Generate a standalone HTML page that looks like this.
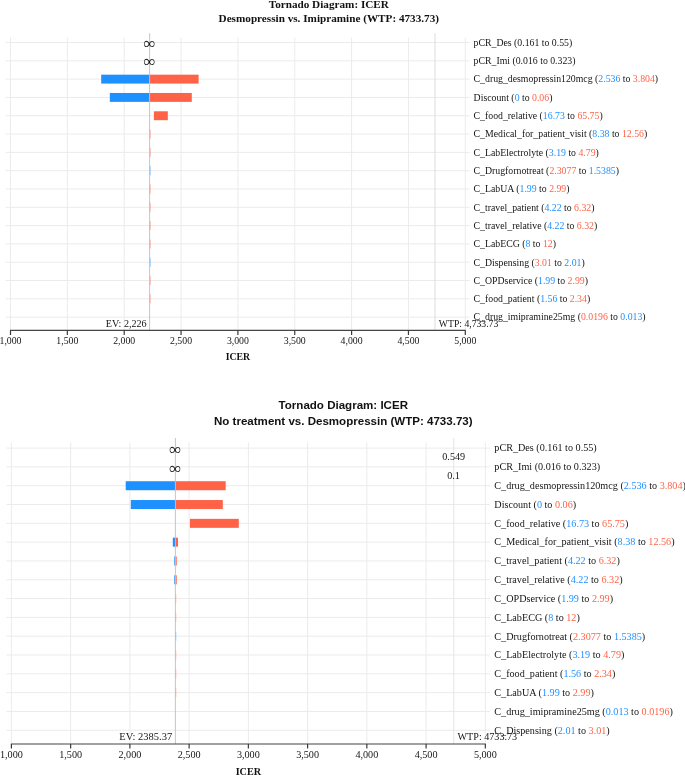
<!DOCTYPE html>
<html><head><meta charset="utf-8"><title>Tornado Diagram: ICER</title>
<style>
html,body{margin:0;padding:0;background:#fff;}
body{width:685px;height:775px;overflow:hidden;}
svg{display:block;font-family:"Liberation Serif",serif;}
</style></head><body>
<svg width="685" height="775" viewBox="0 0 685 775">
<rect width="685" height="775" fill="#fff"/>
<g id="chart1">
<line x1="5.8" x2="469.8" y1="42.50" y2="42.50" stroke="#ebebeb" stroke-width="1"/>
<line x1="5.8" x2="469.8" y1="60.81" y2="60.81" stroke="#ebebeb" stroke-width="1"/>
<line x1="5.8" x2="469.8" y1="79.12" y2="79.12" stroke="#ebebeb" stroke-width="1"/>
<line x1="5.8" x2="469.8" y1="97.43" y2="97.43" stroke="#ebebeb" stroke-width="1"/>
<line x1="5.8" x2="469.8" y1="115.74" y2="115.74" stroke="#ebebeb" stroke-width="1"/>
<line x1="5.8" x2="469.8" y1="134.05" y2="134.05" stroke="#ebebeb" stroke-width="1"/>
<line x1="5.8" x2="469.8" y1="152.36" y2="152.36" stroke="#ebebeb" stroke-width="1"/>
<line x1="5.8" x2="469.8" y1="170.67" y2="170.67" stroke="#ebebeb" stroke-width="1"/>
<line x1="5.8" x2="469.8" y1="188.98" y2="188.98" stroke="#ebebeb" stroke-width="1"/>
<line x1="5.8" x2="469.8" y1="207.29" y2="207.29" stroke="#ebebeb" stroke-width="1"/>
<line x1="5.8" x2="469.8" y1="225.60" y2="225.60" stroke="#ebebeb" stroke-width="1"/>
<line x1="5.8" x2="469.8" y1="243.91" y2="243.91" stroke="#ebebeb" stroke-width="1"/>
<line x1="5.8" x2="469.8" y1="262.22" y2="262.22" stroke="#ebebeb" stroke-width="1"/>
<line x1="5.8" x2="469.8" y1="280.53" y2="280.53" stroke="#ebebeb" stroke-width="1"/>
<line x1="5.8" x2="469.8" y1="298.84" y2="298.84" stroke="#ebebeb" stroke-width="1"/>
<line x1="5.8" x2="469.8" y1="317.15" y2="317.15" stroke="#ebebeb" stroke-width="1"/>
<line x1="10.50" x2="10.50" y1="37.5" y2="330.4" stroke="#ebebeb" stroke-width="1"/>
<line x1="67.35" x2="67.35" y1="37.5" y2="330.4" stroke="#ebebeb" stroke-width="1"/>
<line x1="124.20" x2="124.20" y1="37.5" y2="330.4" stroke="#ebebeb" stroke-width="1"/>
<line x1="181.05" x2="181.05" y1="37.5" y2="330.4" stroke="#ebebeb" stroke-width="1"/>
<line x1="237.90" x2="237.90" y1="37.5" y2="330.4" stroke="#ebebeb" stroke-width="1"/>
<line x1="294.75" x2="294.75" y1="37.5" y2="330.4" stroke="#ebebeb" stroke-width="1"/>
<line x1="351.60" x2="351.60" y1="37.5" y2="330.4" stroke="#ebebeb" stroke-width="1"/>
<line x1="408.45" x2="408.45" y1="37.5" y2="330.4" stroke="#ebebeb" stroke-width="1"/>
<line x1="465.30" x2="465.30" y1="37.5" y2="330.4" stroke="#ebebeb" stroke-width="1"/>
<line x1="435.03" x2="435.03" y1="33.2" y2="330.4" stroke="#dcdcdc" stroke-width="1"/>
<rect x="101.20" y="74.67" width="48.40" height="8.9" fill="#1E90FF" fill-opacity="1"/>
<rect x="149.60" y="74.67" width="49.00" height="8.9" fill="#FF6347" fill-opacity="1"/>
<rect x="109.80" y="92.98" width="39.80" height="8.9" fill="#1E90FF" fill-opacity="1"/>
<rect x="149.60" y="92.98" width="42.20" height="8.9" fill="#FF6347" fill-opacity="1"/>
<rect x="153.90" y="111.29" width="13.90" height="8.9" fill="#FF6347" fill-opacity="1"/>
<rect x="149.60" y="129.60" width="0.90" height="8.9" fill="#FF6347" fill-opacity="0.65"/>
<rect x="149.60" y="147.91" width="0.90" height="8.9" fill="#FF6347" fill-opacity="0.65"/>
<rect x="149.60" y="166.22" width="0.90" height="8.9" fill="#1E90FF" fill-opacity="0.65"/>
<rect x="149.60" y="184.53" width="0.90" height="8.9" fill="#FF6347" fill-opacity="0.65"/>
<rect x="149.60" y="202.84" width="0.90" height="8.9" fill="#FF6347" fill-opacity="0.65"/>
<rect x="149.60" y="221.15" width="0.90" height="8.9" fill="#FF6347" fill-opacity="0.65"/>
<rect x="149.60" y="239.46" width="0.90" height="8.9" fill="#FF6347" fill-opacity="0.65"/>
<rect x="149.60" y="257.77" width="0.90" height="8.9" fill="#1E90FF" fill-opacity="0.65"/>
<rect x="149.60" y="276.08" width="0.90" height="8.9" fill="#FF6347" fill-opacity="0.65"/>
<rect x="149.60" y="294.39" width="0.90" height="8.9" fill="#FF6347" fill-opacity="0.65"/>
<line x1="149.60" x2="149.60" y1="33.2" y2="330.4" stroke="#c0c0c0" stroke-width="0.9"/>
<text x="149.60" y="48.80" text-anchor="middle" font-size="17" fill="#111">∞</text>
<text x="149.60" y="67.11" text-anchor="middle" font-size="17" fill="#111">∞</text>
<line x1="10.00" x2="465.80" y1="330.4" y2="330.4" stroke="#444" stroke-width="1.1"/>
<line x1="10.50" x2="10.50" y1="330.4" y2="335.0" stroke="#3a3a3a" stroke-width="1.2"/>
<text x="10.50" y="343.80" text-anchor="middle" font-size="9.79" fill="#151515">1,000</text>
<line x1="67.35" x2="67.35" y1="330.4" y2="335.0" stroke="#3a3a3a" stroke-width="1.2"/>
<text x="67.35" y="343.80" text-anchor="middle" font-size="9.79" fill="#151515">1,500</text>
<line x1="124.20" x2="124.20" y1="330.4" y2="335.0" stroke="#3a3a3a" stroke-width="1.2"/>
<text x="124.20" y="343.80" text-anchor="middle" font-size="9.79" fill="#151515">2,000</text>
<line x1="181.05" x2="181.05" y1="330.4" y2="335.0" stroke="#3a3a3a" stroke-width="1.2"/>
<text x="181.05" y="343.80" text-anchor="middle" font-size="9.79" fill="#151515">2,500</text>
<line x1="237.90" x2="237.90" y1="330.4" y2="335.0" stroke="#3a3a3a" stroke-width="1.2"/>
<text x="237.90" y="343.80" text-anchor="middle" font-size="9.79" fill="#151515">3,000</text>
<line x1="294.75" x2="294.75" y1="330.4" y2="335.0" stroke="#3a3a3a" stroke-width="1.2"/>
<text x="294.75" y="343.80" text-anchor="middle" font-size="9.79" fill="#151515">3,500</text>
<line x1="351.60" x2="351.60" y1="330.4" y2="335.0" stroke="#3a3a3a" stroke-width="1.2"/>
<text x="351.60" y="343.80" text-anchor="middle" font-size="9.79" fill="#151515">4,000</text>
<line x1="408.45" x2="408.45" y1="330.4" y2="335.0" stroke="#3a3a3a" stroke-width="1.2"/>
<text x="408.45" y="343.80" text-anchor="middle" font-size="9.79" fill="#151515">4,500</text>
<line x1="465.30" x2="465.30" y1="330.4" y2="335.0" stroke="#3a3a3a" stroke-width="1.2"/>
<text x="465.30" y="343.80" text-anchor="middle" font-size="9.79" fill="#151515">5,000</text>
<text x="237.90" y="360" text-anchor="middle" font-size="9.79" font-weight="bold" fill="#111">ICER</text>
<text x="146.60" y="326.8" text-anchor="end" font-size="10.1" fill="#151515">EV: 2,226</text>
<text x="438.83" y="326.8" text-anchor="start" font-size="9.7" fill="#151515">WTP: 4,733.73</text>
<text x="473.6" y="45.80" font-size="9.79" fill="#151515">pCR_Des (0.161 to 0.55)</text>
<text x="473.6" y="64.11" font-size="9.79" fill="#151515">pCR_Imi (0.016 to 0.323)</text>
<text x="473.6" y="82.42" font-size="9.79" fill="#151515">C_drug_desmopressin120mcg (<tspan fill="#1E90FF">2.536</tspan> to <tspan fill="#FF6347">3.804</tspan>)</text>
<text x="473.6" y="100.73" font-size="9.79" fill="#151515">Discount (<tspan fill="#1E90FF">0</tspan> to <tspan fill="#FF6347">0.06</tspan>)</text>
<text x="473.6" y="119.04" font-size="9.79" fill="#151515">C_food_relative (<tspan fill="#1E90FF">16.73</tspan> to <tspan fill="#FF6347">65.75</tspan>)</text>
<text x="473.6" y="137.35" font-size="9.79" fill="#151515">C_Medical_for_patient_visit (<tspan fill="#1E90FF">8.38</tspan> to <tspan fill="#FF6347">12.56</tspan>)</text>
<text x="473.6" y="155.66" font-size="9.79" fill="#151515">C_LabElectrolyte (<tspan fill="#1E90FF">3.19</tspan> to <tspan fill="#FF6347">4.79</tspan>)</text>
<text x="473.6" y="173.97" font-size="9.79" fill="#151515">C_Drugfornotreat (<tspan fill="#FF6347">2.3077</tspan> to <tspan fill="#1E90FF">1.5385</tspan>)</text>
<text x="473.6" y="192.28" font-size="9.79" fill="#151515">C_LabUA (<tspan fill="#1E90FF">1.99</tspan> to <tspan fill="#FF6347">2.99</tspan>)</text>
<text x="473.6" y="210.59" font-size="9.79" fill="#151515">C_travel_patient (<tspan fill="#1E90FF">4.22</tspan> to <tspan fill="#FF6347">6.32</tspan>)</text>
<text x="473.6" y="228.90" font-size="9.79" fill="#151515">C_travel_relative (<tspan fill="#1E90FF">4.22</tspan> to <tspan fill="#FF6347">6.32</tspan>)</text>
<text x="473.6" y="247.21" font-size="9.79" fill="#151515">C_LabECG (<tspan fill="#1E90FF">8</tspan> to <tspan fill="#FF6347">12</tspan>)</text>
<text x="473.6" y="265.52" font-size="9.79" fill="#151515">C_Dispensing (<tspan fill="#FF6347">3.01</tspan> to <tspan fill="#1E90FF">2.01</tspan>)</text>
<text x="473.6" y="283.83" font-size="9.79" fill="#151515">C_OPDservice (<tspan fill="#1E90FF">1.99</tspan> to <tspan fill="#FF6347">2.99</tspan>)</text>
<text x="473.6" y="302.14" font-size="9.79" fill="#151515">C_food_patient (<tspan fill="#1E90FF">1.56</tspan> to <tspan fill="#FF6347">2.34</tspan>)</text>
<text x="473.6" y="320.45" font-size="9.79" fill="#151515">C_drug_imipramine25mg (<tspan fill="#FF6347">0.0196</tspan> to <tspan fill="#1E90FF">0.013</tspan>)</text>
<text x="328.8" y="7.6" text-anchor="middle" font-family="'Liberation Serif',serif" font-size="11.2" font-weight="bold" fill="#111">Tornado Diagram: ICER</text>
<text x="328.8" y="21.9" text-anchor="middle" font-family="'Liberation Serif',serif" font-size="11.2" font-weight="bold" fill="#111">Desmopressin vs. Imipramine (WTP: 4733.73)</text>
</g>
<g id="chart2">
<line x1="6.3" x2="490" y1="448.10" y2="448.10" stroke="#ebebeb" stroke-width="1"/>
<line x1="6.3" x2="490" y1="466.91" y2="466.91" stroke="#ebebeb" stroke-width="1"/>
<line x1="6.3" x2="490" y1="485.72" y2="485.72" stroke="#ebebeb" stroke-width="1"/>
<line x1="6.3" x2="490" y1="504.53" y2="504.53" stroke="#ebebeb" stroke-width="1"/>
<line x1="6.3" x2="490" y1="523.34" y2="523.34" stroke="#ebebeb" stroke-width="1"/>
<line x1="6.3" x2="490" y1="542.15" y2="542.15" stroke="#ebebeb" stroke-width="1"/>
<line x1="6.3" x2="490" y1="560.96" y2="560.96" stroke="#ebebeb" stroke-width="1"/>
<line x1="6.3" x2="490" y1="579.77" y2="579.77" stroke="#ebebeb" stroke-width="1"/>
<line x1="6.3" x2="490" y1="598.58" y2="598.58" stroke="#ebebeb" stroke-width="1"/>
<line x1="6.3" x2="490" y1="617.39" y2="617.39" stroke="#ebebeb" stroke-width="1"/>
<line x1="6.3" x2="490" y1="636.20" y2="636.20" stroke="#ebebeb" stroke-width="1"/>
<line x1="6.3" x2="490" y1="655.01" y2="655.01" stroke="#ebebeb" stroke-width="1"/>
<line x1="6.3" x2="490" y1="673.82" y2="673.82" stroke="#ebebeb" stroke-width="1"/>
<line x1="6.3" x2="490" y1="692.63" y2="692.63" stroke="#ebebeb" stroke-width="1"/>
<line x1="6.3" x2="490" y1="711.44" y2="711.44" stroke="#ebebeb" stroke-width="1"/>
<line x1="6.3" x2="490" y1="730.25" y2="730.25" stroke="#ebebeb" stroke-width="1"/>
<line x1="11.40" x2="11.40" y1="442.5" y2="744.0" stroke="#ebebeb" stroke-width="1"/>
<line x1="70.64" x2="70.64" y1="442.5" y2="744.0" stroke="#ebebeb" stroke-width="1"/>
<line x1="129.88" x2="129.88" y1="442.5" y2="744.0" stroke="#ebebeb" stroke-width="1"/>
<line x1="189.12" x2="189.12" y1="442.5" y2="744.0" stroke="#ebebeb" stroke-width="1"/>
<line x1="248.36" x2="248.36" y1="442.5" y2="744.0" stroke="#ebebeb" stroke-width="1"/>
<line x1="307.60" x2="307.60" y1="442.5" y2="744.0" stroke="#ebebeb" stroke-width="1"/>
<line x1="366.84" x2="366.84" y1="442.5" y2="744.0" stroke="#ebebeb" stroke-width="1"/>
<line x1="426.08" x2="426.08" y1="442.5" y2="744.0" stroke="#ebebeb" stroke-width="1"/>
<line x1="485.32" x2="485.32" y1="442.5" y2="744.0" stroke="#ebebeb" stroke-width="1"/>
<line x1="453.77" x2="453.77" y1="438" y2="744.0" stroke="#e4e4e4" stroke-width="1"/>
<rect x="125.70" y="481.22" width="49.70" height="9.0" fill="#1E90FF" fill-opacity="1"/>
<rect x="175.40" y="481.22" width="50.30" height="9.0" fill="#FF6347" fill-opacity="1"/>
<rect x="130.80" y="500.03" width="44.60" height="9.0" fill="#1E90FF" fill-opacity="1"/>
<rect x="175.40" y="500.03" width="47.40" height="9.0" fill="#FF6347" fill-opacity="1"/>
<rect x="189.90" y="518.84" width="48.90" height="9.0" fill="#FF6347" fill-opacity="1"/>
<rect x="172.80" y="537.65" width="2.60" height="9.0" fill="#1E90FF" fill-opacity="1"/>
<rect x="175.40" y="537.65" width="2.60" height="9.0" fill="#FF6347" fill-opacity="1"/>
<rect x="174.10" y="556.46" width="1.30" height="9.0" fill="#1E90FF" fill-opacity="0.8"/>
<rect x="175.40" y="556.46" width="1.50" height="9.0" fill="#FF6347" fill-opacity="0.8"/>
<rect x="174.10" y="575.27" width="1.30" height="9.0" fill="#1E90FF" fill-opacity="0.8"/>
<rect x="175.40" y="575.27" width="1.50" height="9.0" fill="#FF6347" fill-opacity="0.8"/>
<rect x="175.40" y="594.08" width="0.80" height="9.0" fill="#FF6347" fill-opacity="0.65"/>
<rect x="175.40" y="612.89" width="0.80" height="9.0" fill="#FF6347" fill-opacity="0.65"/>
<rect x="175.40" y="631.70" width="0.80" height="9.0" fill="#1E90FF" fill-opacity="0.65"/>
<rect x="175.40" y="650.51" width="0.80" height="9.0" fill="#FF6347" fill-opacity="0.65"/>
<rect x="175.40" y="669.32" width="0.80" height="9.0" fill="#FF6347" fill-opacity="0.65"/>
<rect x="175.40" y="688.13" width="0.80" height="9.0" fill="#FF6347" fill-opacity="0.65"/>
<line x1="175.40" x2="175.40" y1="438" y2="744.0" stroke="#c0c0c0" stroke-width="0.9"/>
<text x="175.40" y="454.90" text-anchor="middle" font-size="17" fill="#111">∞</text>
<text x="175.40" y="473.71" text-anchor="middle" font-size="17" fill="#111">∞</text>
<line x1="10.90" x2="485.82" y1="744.0" y2="744.0" stroke="#444" stroke-width="1.1"/>
<line x1="11.40" x2="11.40" y1="744.0" y2="748.6" stroke="#3a3a3a" stroke-width="1.2"/>
<text x="11.40" y="757.70" text-anchor="middle" font-size="10.17" fill="#151515">1,000</text>
<line x1="70.64" x2="70.64" y1="744.0" y2="748.6" stroke="#3a3a3a" stroke-width="1.2"/>
<text x="70.64" y="757.70" text-anchor="middle" font-size="10.17" fill="#151515">1,500</text>
<line x1="129.88" x2="129.88" y1="744.0" y2="748.6" stroke="#3a3a3a" stroke-width="1.2"/>
<text x="129.88" y="757.70" text-anchor="middle" font-size="10.17" fill="#151515">2,000</text>
<line x1="189.12" x2="189.12" y1="744.0" y2="748.6" stroke="#3a3a3a" stroke-width="1.2"/>
<text x="189.12" y="757.70" text-anchor="middle" font-size="10.17" fill="#151515">2,500</text>
<line x1="248.36" x2="248.36" y1="744.0" y2="748.6" stroke="#3a3a3a" stroke-width="1.2"/>
<text x="248.36" y="757.70" text-anchor="middle" font-size="10.17" fill="#151515">3,000</text>
<line x1="307.60" x2="307.60" y1="744.0" y2="748.6" stroke="#3a3a3a" stroke-width="1.2"/>
<text x="307.60" y="757.70" text-anchor="middle" font-size="10.17" fill="#151515">3,500</text>
<line x1="366.84" x2="366.84" y1="744.0" y2="748.6" stroke="#3a3a3a" stroke-width="1.2"/>
<text x="366.84" y="757.70" text-anchor="middle" font-size="10.17" fill="#151515">4,000</text>
<line x1="426.08" x2="426.08" y1="744.0" y2="748.6" stroke="#3a3a3a" stroke-width="1.2"/>
<text x="426.08" y="757.70" text-anchor="middle" font-size="10.17" fill="#151515">4,500</text>
<line x1="485.32" x2="485.32" y1="744.0" y2="748.6" stroke="#3a3a3a" stroke-width="1.2"/>
<text x="485.32" y="757.70" text-anchor="middle" font-size="10.17" fill="#151515">5,000</text>
<text x="248.36" y="774.5" text-anchor="middle" font-size="10.17" font-weight="bold" fill="#111">ICER</text>
<text x="172.20" y="739.9" text-anchor="end" font-size="10.5" fill="#151515">EV: 2385.37</text>
<text x="457.57" y="739.9" text-anchor="start" font-size="10.12" fill="#151515">WTP: 4733.73</text>
<text x="453.7" y="460.4" text-anchor="middle" font-size="10.17" fill="#151515">0.549</text>
<text x="453.5" y="479.3" text-anchor="middle" font-size="10.17" fill="#151515">0.1</text>
<text x="494.3" y="451.40" font-size="10.17" fill="#151515">pCR_Des (0.161 to 0.55)</text>
<text x="494.3" y="470.21" font-size="10.17" fill="#151515">pCR_Imi (0.016 to 0.323)</text>
<text x="494.3" y="489.02" font-size="10.17" fill="#151515">C_drug_desmopressin120mcg (<tspan fill="#1E90FF">2.536</tspan> to <tspan fill="#FF6347">3.804</tspan>)</text>
<text x="494.3" y="507.83" font-size="10.17" fill="#151515">Discount (<tspan fill="#1E90FF">0</tspan> to <tspan fill="#FF6347">0.06</tspan>)</text>
<text x="494.3" y="526.64" font-size="10.17" fill="#151515">C_food_relative (<tspan fill="#1E90FF">16.73</tspan> to <tspan fill="#FF6347">65.75</tspan>)</text>
<text x="494.3" y="545.45" font-size="10.17" fill="#151515">C_Medical_for_patient_visit (<tspan fill="#1E90FF">8.38</tspan> to <tspan fill="#FF6347">12.56</tspan>)</text>
<text x="494.3" y="564.26" font-size="10.17" fill="#151515">C_travel_patient (<tspan fill="#1E90FF">4.22</tspan> to <tspan fill="#FF6347">6.32</tspan>)</text>
<text x="494.3" y="583.07" font-size="10.17" fill="#151515">C_travel_relative (<tspan fill="#1E90FF">4.22</tspan> to <tspan fill="#FF6347">6.32</tspan>)</text>
<text x="494.3" y="601.88" font-size="10.17" fill="#151515">C_OPDservice (<tspan fill="#1E90FF">1.99</tspan> to <tspan fill="#FF6347">2.99</tspan>)</text>
<text x="494.3" y="620.69" font-size="10.17" fill="#151515">C_LabECG (<tspan fill="#1E90FF">8</tspan> to <tspan fill="#FF6347">12</tspan>)</text>
<text x="494.3" y="639.50" font-size="10.17" fill="#151515">C_Drugfornotreat (<tspan fill="#FF6347">2.3077</tspan> to <tspan fill="#1E90FF">1.5385</tspan>)</text>
<text x="494.3" y="658.31" font-size="10.17" fill="#151515">C_LabElectrolyte (<tspan fill="#1E90FF">3.19</tspan> to <tspan fill="#FF6347">4.79</tspan>)</text>
<text x="494.3" y="677.12" font-size="10.17" fill="#151515">C_food_patient (<tspan fill="#1E90FF">1.56</tspan> to <tspan fill="#FF6347">2.34</tspan>)</text>
<text x="494.3" y="695.93" font-size="10.17" fill="#151515">C_LabUA (<tspan fill="#1E90FF">1.99</tspan> to <tspan fill="#FF6347">2.99</tspan>)</text>
<text x="494.3" y="714.74" font-size="10.17" fill="#151515">C_drug_imipramine25mg (<tspan fill="#1E90FF">0.013</tspan> to <tspan fill="#FF6347">0.0196</tspan>)</text>
<text x="494.3" y="733.55" font-size="10.17" fill="#151515">C_Dispensing (<tspan fill="#1E90FF">2.01</tspan> to <tspan fill="#FF6347">3.01</tspan>)</text>
<text x="343.3" y="409.4" text-anchor="middle" font-family="'Liberation Sans',sans-serif" font-size="11.55" font-weight="bold" fill="#111">Tornado Diagram: ICER</text>
<text x="343.3" y="425.3" text-anchor="middle" font-family="'Liberation Sans',sans-serif" font-size="11.55" font-weight="bold" fill="#111">No treatment vs. Desmopressin (WTP: 4733.73)</text>
</g>
</svg>
</body></html>
